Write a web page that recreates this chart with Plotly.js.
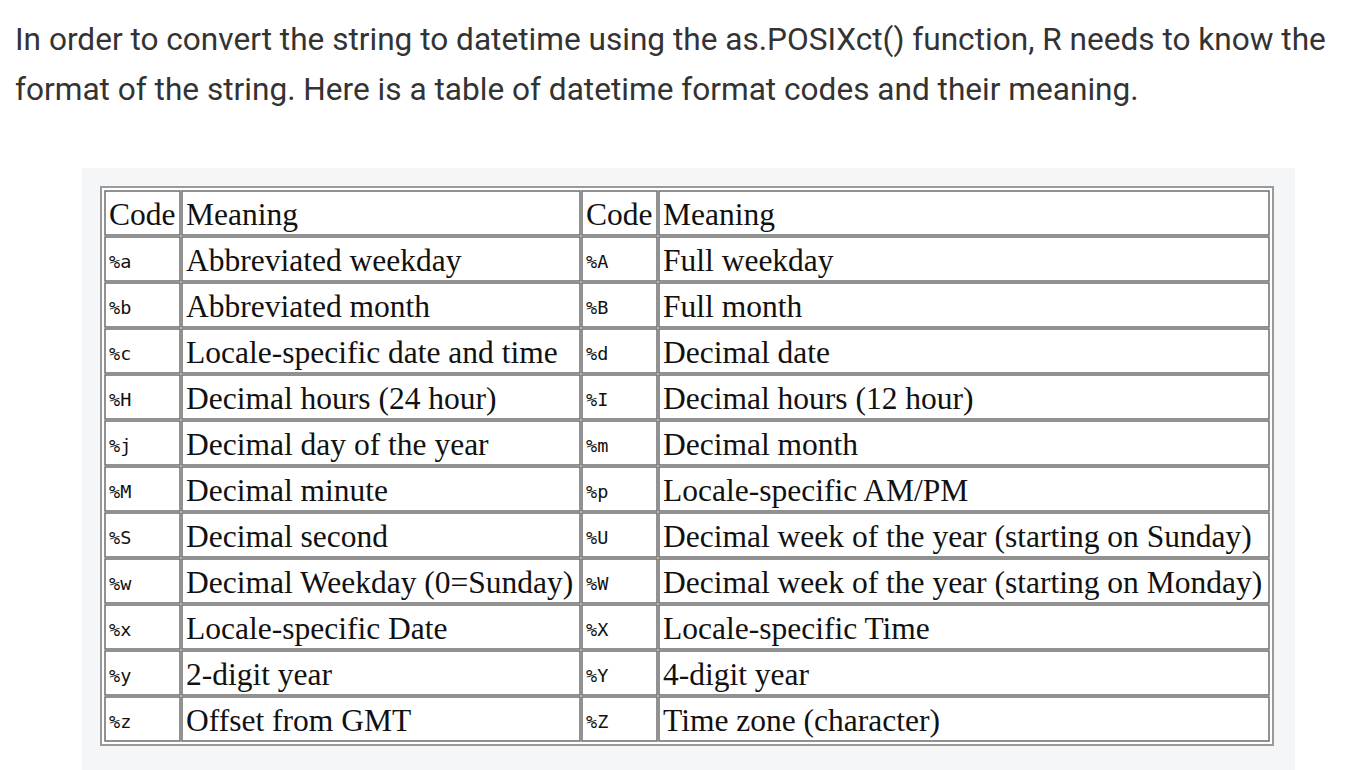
<!DOCTYPE html>
<html><head><meta charset="utf-8">
<script src="https://cdn.plot.ly/plotly-3.0.1.min.js"></script>
<style>body{margin:0;background:#fff}#container{width:1345px;height:770px}</style>
</head><body><div id="container"></div>
<script>
// table contents
var header = ['Code', 'Meaning', 'Code', 'Meaning'];
var codesLeft = ['%a','%b','%c','%H','%j','%M','%S','%w','%x','%y','%z'];
var meaningsLeft = ['Abbreviated weekday','Abbreviated month','Locale-specific date and time','Decimal hours (24 hour)','Decimal day of the year','Decimal minute','Decimal second','Decimal Weekday (0=Sunday)','Locale-specific Date','2-digit year','Offset from GMT'];
var codesRight = ['%A','%B','%d','%I','%m','%p','%U','%W','%X','%Y','%Z'];
var meaningsRight = ['Full weekday','Full month','Decimal date','Decimal hours (12 hour)','Decimal month','Locale-specific AM/PM','Decimal week of the year (starting on Sunday)','Decimal week of the year (starting on Monday)','Locale-specific Time','4-digit year','Time zone (character)'];

var colEdges = [104, 181, 581, 658, 1270];
var rowTop = 191, rowH = 46;
var serif = 'Liberation Serif, Times New Roman, serif';
var mono = 'DejaVu Sans Mono, monospace';

var shapes = [
  {type:'rect', x0:82, x1:1295, y0:168, y1:770, fillcolor:'#f4f6f8', line:{width:0}, layer:'below'},
  {type:'rect', x0:101, x1:1273, y0:187, y1:745, fillcolor:'#fff', line:{color:'#9a9a9a', width:2}, layer:'below'}
];
var annotations = [];
function cellText(x, y, t, font, size){
  annotations.push({x:x, y:y, text:t, showarrow:false, xanchor:'left', yanchor:'middle',
    font:{family:font, size:size, color:'#111'}});
}
var nRows = codesLeft.length + 1;
for (var r = 0; r < nRows; r++) {
  var y0 = rowTop + r*rowH, y1 = y0 + rowH - 2, yc = (y0+y1)/2;
  for (var c = 0; c < 4; c++) {
    shapes.push({type:'rect', x0:colEdges[c]+1, x1:colEdges[c+1]-1, y0:y0, y1:y1,
      line:{color:'#6e6e6e', width:1.5}, layer:'below'});
  }
  if (r === 0) {
    for (var c = 0; c < 4; c++) cellText(colEdges[c]+3, yc+1, header[c], serif, 31.5);
  } else {
    var i = r-1;
    cellText(colEdges[0]+3, yc+2, codesLeft[i], mono, 18.5);
    cellText(colEdges[1]+3, yc+1, meaningsLeft[i], serif, 31.5);
    cellText(colEdges[2]+3, yc+2, codesRight[i], mono, 18.5);
    cellText(colEdges[3]+3, yc+1, meaningsRight[i], serif, 31.5);
  }
}
var para = ['In order to convert the string to datetime using the as.POSIXct() function, R needs to know the',
            'format of the string. Here is a table of datetime format codes and their meaning.'];
para.forEach(function(t, k){
  annotations.push({x:13, y:39 + k*50, text:t, showarrow:false, xanchor:'left', yanchor:'middle',
    font:{family:'Roboto, sans-serif', size:31.6, color:'#333'}});
});

var layout = {
  width:1345, height:770, margin:{l:0,r:0,t:0,b:0},
  paper_bgcolor:'#fff', plot_bgcolor:'#fff', showlegend:false,
  xaxis:{visible:false, range:[0,1345], fixedrange:true},
  yaxis:{visible:false, range:[770,0], fixedrange:true},
  shapes:shapes, annotations:annotations
};
Plotly.newPlot('container', [{x:[0], y:[0], mode:'markers', marker:{opacity:0}, hoverinfo:'skip'}], layout, {staticPlot:true});
</script></body></html>
